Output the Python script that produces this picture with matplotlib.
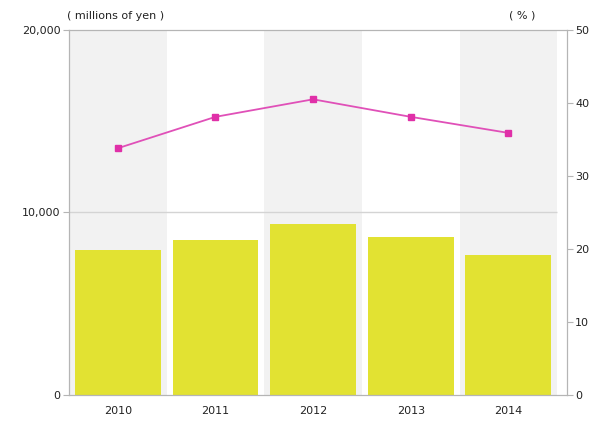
import matplotlib
matplotlib.use("Agg")
import matplotlib.pyplot as plt
from matplotlib.ticker import FuncFormatter

years = ["2010", "2011", "2012", "2013", "2014"]
sales = [7950, 8490, 9370, 8660, 7670]          # millions of yen
ratio = [33.8, 38.1, 40.5, 38.1, 35.9]          # %
left_ticks = [0, 10000, 20000]
right_ticks = [0, 10, 20, 30, 40, 50]

plt.rcParams['font.family'] = ['Liberation Sans Narrow', 'DejaVu Sans']

fig = plt.figure(figsize=(5.93, 4.22), dpi=100)
ax = fig.add_axes([0.1164, 0.064, 0.956 - 0.1164, 0.929 - 0.064])
x = list(range(len(years)))

for i in x:
    if i % 2 == 0:
        ax.axvspan(i - 0.5, i + 0.5, color='#f2f2f2', zorder=0, lw=0)
ax.hlines(10000, -0.5, len(years) - 0.5, color='#d4d4d4', lw=1, zorder=1)
ax.bar(x, sales, width=0.88, color='#e2e232', zorder=2)
ax.set_xlim(-0.5, 4.6)
ax.set_ylim(0, 20000)
ax.set_yticks(left_ticks)
ax.yaxis.set_major_formatter(FuncFormatter(lambda v, p: f"{int(v):,}"))
ax.set_xticks(x)
ax.set_xticklabels(years)
for s in ax.spines.values():
    s.set_color('#b5b5b5')
ax.tick_params(axis='both', colors='#b5b5b5', labelcolor='#222222', labelsize=8, length=4, pad=2)
ax.tick_params(axis='x', length=0, pad=8)

ax2 = ax.twinx()
ax2.plot(x, ratio, color='#e050b8', lw=1.3, marker='s', markersize=4.5,
         markerfacecolor='#e030a8', markeredgecolor='#e030a8', zorder=3)
ax2.set_ylim(0, 50)
ax2.set_yticks(right_ticks)
for s in ax2.spines.values():
    s.set_color('#b5b5b5')
ax2.tick_params(axis='y', colors='#b5b5b5', labelcolor='#222222', labelsize=8, length=4, pad=2)

fig.text(0.113, 0.955, "( millions of yen )", fontsize=8, color='#222222')
fig.text(0.858, 0.955, "( % )", fontsize=8, color='#222222')

fig.savefig("out.png", dpi=100)
